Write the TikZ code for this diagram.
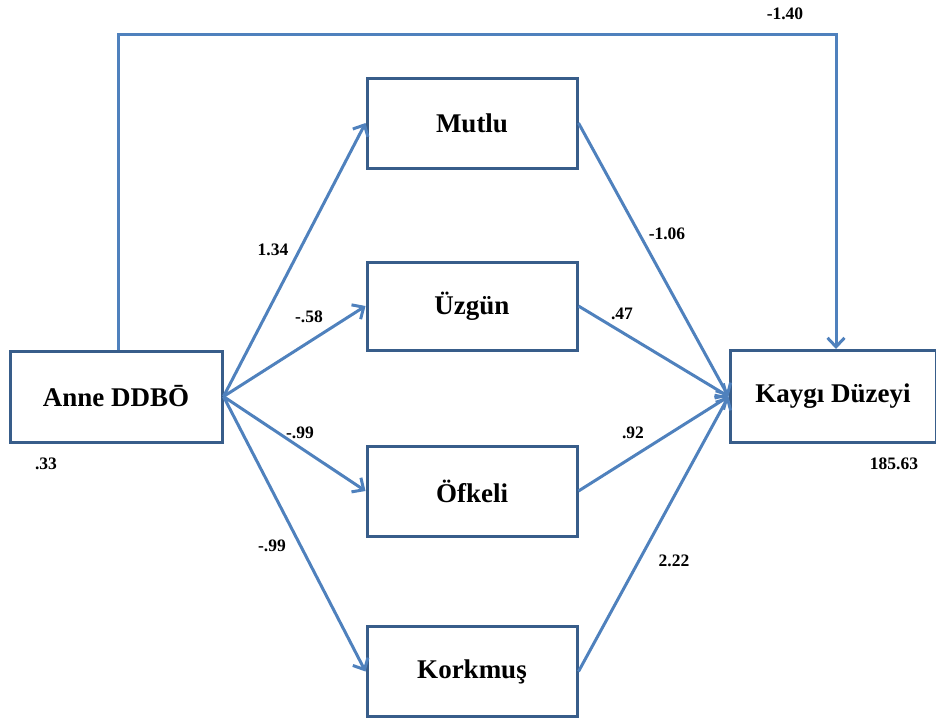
\documentclass[tikz,border=0pt]{standalone}
\usepackage{fontspec}
\setmainfont{Liberation Serif}
\usetikzlibrary{arrows.meta}
\definecolor{boxline}{RGB}{56,93,138}
\definecolor{arrowline}{RGB}{79,129,189}
\begin{document}
\begin{tikzpicture}[x=1pt,y=-1pt,
  varbox/.style={draw=boxline,line width=3pt,fill=white,rectangle,inner sep=0pt,
     font=\fontsize{27}{30}\selectfont\bfseries},
  coef/.style={font=\fontsize{17.5}{20}\selectfont\bfseries,inner sep=1pt},
  path/.style={draw=arrowline,line width=3pt},
  arr/.style={path,-{Straight Barb[length=9pt,width=17pt,line width=3pt]}}]
\useasboundingbox (0,0) rectangle (936,720);
\node[varbox,minimum width=212pt,minimum height=91pt] (anne) at (116,396.5) {Anne DDBŌ};
\node[varbox,minimum width=210pt,minimum height=90pt] (mutlu) at (472,123) {Mutlu};
\node[varbox,minimum width=210pt,minimum height=88pt] (uzgun) at (472,306) {Üzgün};
\node[varbox,minimum width=210pt,minimum height=90pt] (ofkeli) at (472,491) {Öfkeli};
\node[varbox,minimum width=210pt,minimum height=90pt] (korkmus) at (472,671.5) {Korkmuş};
\node[varbox,minimum width=206pt,minimum height=92pt] (kaygi) at (833,396.5) {Kaygı Düzeyi};
\coordinate (c1) at (118,34);
\coordinate (c2) at (836,34);
\draw[arr] (anne.north -| c1) -- (c1) -- (c2) -- (c2 |- kaygi.north);
\draw[arr] (anne.east) -- (mutlu.west);
\draw[arr] (anne.east) -- (uzgun.west);
\draw[arr] (anne.east) -- (ofkeli.west);
\draw[arr] (anne.east) -- (korkmus.west);
\draw[arr] (mutlu.east) -- (kaygi.west);
\draw[arr] (uzgun.east) -- (kaygi.west);
\draw[arr] (ofkeli.east) -- (kaygi.west);
\draw[arr] (korkmus.east) -- (kaygi.west);
\node[coef] (l140) at (785,14) {-1.40};
\node[coef] (l134) at (273,250) {1.34};
\node[coef] (l58) at (309,317) {-.58};
\node[coef] (l99a) at (300,433) {-.99};
\node[coef] (l99b) at (272,546) {-.99};
\node[coef] (l106) at (667,234) {-1.06};
\node[coef] (l47) at (622,314) {.47};
\node[coef] (l92) at (633,433) {.92};
\node[coef] (l222) at (674,561) {2.22};
\node[coef] (l33) at (46,464) {.33};
\node[coef] (l18563) at (894,464) {185.63};
\end{tikzpicture}
\end{document}
